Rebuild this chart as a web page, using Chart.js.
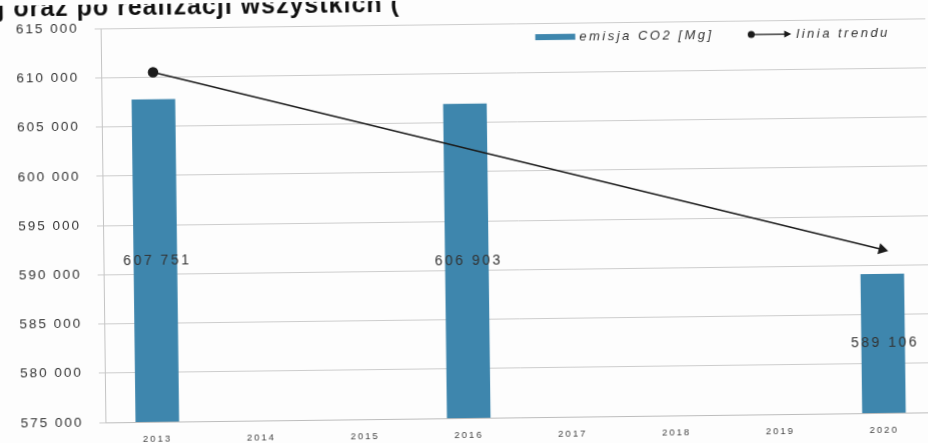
<!DOCTYPE html>
<html lang="pl">
<head>
<meta charset="utf-8">
<script src="https://cdn.jsdelivr.net/npm/chart.js@4/dist/chart.umd.min.js"></script>
<style>
  html, body { margin: 0; padding: 0; background: #fdfdfd; overflow: hidden; }
  #wrap {
    position: relative; width: 928px; height: 443px; overflow: hidden;
    transform: rotate(-0.7deg); transform-origin: 464px 221px;
  }
  #head {
    position: absolute; left: 0; top: -12px; white-space: nowrap; letter-spacing: 1px;
    font: bold 25px "Liberation Sans", Arial, sans-serif; color: #111;
  }
  canvas { position: absolute; left: 0; top: 0; }
</style>
</head>
<body>
<div id="wrap">
  <canvas id="emisja" width="940" height="443"></canvas>
  <div id="head">j oraz po realizacji wszystkich (</div>
</div>
<script>
const years = ['2013', '2014', '2015', '2016', '2017', '2018', '2019', '2020'];
const emisjaCO2 = [607751, null, null, 606903, null, null, null, 589106];
const liniaTrendu = [610500, null, null, null, null, null, null, 591600];
const yMin = 575000, yMax = 615000, yStep = 5000;

const barColor = '#3e86ad';
const inkColor = '#1b1b1b';
const textColor = '#333333';
const fontFamily = '"Liberation Sans", Arial, sans-serif';

// "607 751" - spacja jako separator tysięcy
const fmt = v => String(v).replace(/\B(?=(\d{3})+(?!\d))/g, ' ');

// szerszy odstęp liter dla całego wykresu (jak w oryginalnym arkuszu)
const spacing = {
  id: 'spacing',
  beforeLayout(chart) { chart.ctx.letterSpacing = '2px'; },
  beforeDraw(chart) {
    chart.ctx.letterSpacing = '2px';
    const x = chart.scales.x;
    if (!x._narrow) {
      const draw = x.draw;
      x.draw = function (area) {
        chart.ctx.letterSpacing = '0.5px';
        draw.call(this, area);
        chart.ctx.letterSpacing = '2px';
      };
      x._narrow = true;
    }
  }
};

// etykiety wartości na środku słupków
const barLabels = {
  id: 'barLabels',
  afterDraw(chart) {
    const ctx = chart.ctx;
    const xs = chart.scales.x, ys = chart.scales.y;
    ctx.save();
    ctx.letterSpacing = '2.5px';
    ctx.font = '14px ' + fontFamily;
    ctx.fillStyle = textColor;
    ctx.textAlign = 'center';
    ctx.textBaseline = 'middle';
    emisjaCO2.forEach((v, i) => {
      if (v == null) return;
      const top = ys.getPixelForValue(v);
      ctx.fillText(fmt(v), xs.getPixelForValue(i) + 2, (top + ys.bottom) / 2);
    });
    ctx.restore();
  }
};

// legenda w prawym górnym rogu obszaru wykresu
const legendBox = {
  id: 'legendBox',
  afterDraw(chart) {
    const ctx = chart.ctx;
    const a = chart.chartArea;
    const y = a.top + 14;
    const ds = chart.data.datasets;
    ctx.save();
    ctx.letterSpacing = '2.5px';
    ctx.font = 'italic 13px ' + fontFamily;
    ctx.textBaseline = 'middle';

    let x = a.right - 396;
    ctx.fillStyle = barColor;
    ctx.fillRect(x, y - 3, 40, 6);
    ctx.fillStyle = textColor;
    ctx.fillText(ds[0].label, x + 44, y);

    x = a.right - 180;
    ctx.strokeStyle = inkColor;
    ctx.fillStyle = inkColor;
    ctx.lineWidth = 1.3;
    ctx.beginPath(); ctx.moveTo(x, y); ctx.lineTo(x + 36, y); ctx.stroke();
    ctx.beginPath(); ctx.arc(x, y, 3.5, 0, Math.PI * 2); ctx.fill();
    ctx.beginPath(); ctx.moveTo(x + 40, y); ctx.lineTo(x + 33, y - 3.5); ctx.lineTo(x + 33, y + 3.5); ctx.closePath(); ctx.fill();
    ctx.fillStyle = textColor;
    ctx.fillText(ds[1].label, x + 45, y);
    ctx.restore();
  }
};

const last = years.length - 1;

new Chart(document.getElementById('emisja'), {
  type: 'bar',
  data: {
    labels: years,
    datasets: [{
      label: 'emisja CO2 [Mg]',
      data: emisjaCO2,
      backgroundColor: barColor,
      categoryPercentage: 1,
      barPercentage: 0.42,
      order: 1
    }, {
      type: 'line',
      label: 'linia trendu',
      data: liniaTrendu,
      spanGaps: true,
      borderColor: inkColor,
      borderWidth: 1.5,
      pointStyle: years.map((_, i) => i === last ? 'triangle' : 'circle'),
      pointRadius: years.map((_, i) => i === 0 ? 4.5 : i === last ? 5 : 0),
      pointRotation: years.map((_, i) => i === last ? 105 : 0),
      pointBackgroundColor: inkColor,
      pointBorderColor: inkColor,
      order: 0
    }]
  },
  options: {
    responsive: false,
    animation: false,
    devicePixelRatio: 1,
    layout: { padding: { top: 7, right: 0, bottom: 0, left: 0 } },
    plugins: {
      legend: { display: false },
      tooltip: { enabled: false }
    },
    scales: {
      x: {
        grid: { display: false },
        border: { display: true, color: '#bdbdbd', width: 1 },
        ticks: { color: '#444', padding: 4, font: { family: fontFamily, size: 9.5 } },
        afterFit(s) { s.height = 25; }
      },
      y: {
        min: yMin,
        max: yMax,
        ticks: {
          stepSize: yStep,
          padding: 16,
          color: '#333',
          font: { family: fontFamily, size: 13.5 },
          callback: v => fmt(v)
        },
        grid: { color: '#cdcdcd', lineWidth: 1, tickLength: 6 },
        border: { display: true, color: '#c4c4c4', width: 1 },
        afterFit(s) { s.width = 103; }
      }
    }
  },
  plugins: [spacing, barLabels, legendBox]
});
</script>
</body>
</html>
